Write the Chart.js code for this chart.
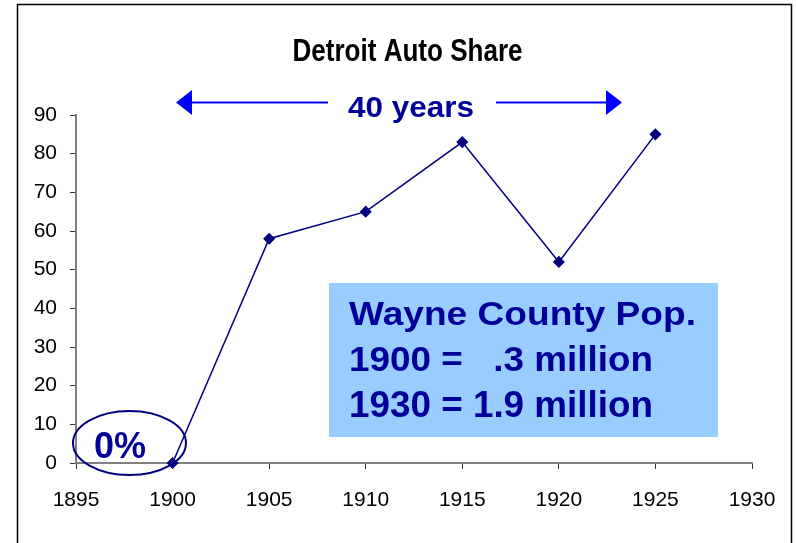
<!DOCTYPE html>
<html>
<head>
<meta charset="utf-8">
<script src="https://cdn.jsdelivr.net/npm/chart.js@4/dist/chart.umd.min.js"></script>
<style>
  body { margin: 0; background: #fff; }
</style>
</head>
<body>
<canvas id="chart" width="797" height="543"></canvas>
<script>
const years = [1900, 1905, 1910, 1915, 1920, 1925];
const autoShare = [0, 58, 65, 83, 52, 85];
const xTicks = [1895, 1900, 1905, 1910, 1915, 1920, 1925, 1930];
const yTicks = [0, 10, 20, 30, 40, 50, 60, 70, 80, 90];
const boxLines = ['Wayne County Pop.', '1900 =   .3 million', '1930 = 1.9 million'];

const FONT = "'Liberation Sans', Arial, sans-serif";
const NAVY = '#000080';
const TEXT_BLUE = '#000099';

// draws bold text so its caps are capH tall and the whole string is w wide
function fitText(ctx, text, left, baseline, w, capH, color) {
    const size = capH / 0.716;
    ctx.save();
    ctx.font = 'bold ' + size + 'px ' + FONT;
    ctx.fillStyle = color;
    ctx.textBaseline = 'alphabetic';
    ctx.textAlign = 'left';
    const m = ctx.measureText(text).width;
    ctx.translate(left, baseline);
    ctx.scale(w / m, 1);
    ctx.fillText(text, 0, 0);
    ctx.restore();
}

function arrow(ctx, x1, x2, y) {
    // x2 is the tip
    const dir = Math.sign(x2 - x1);
    const headLen = 16, headHalf = 12.5;
    ctx.save();
    ctx.strokeStyle = '#0000ff';
    ctx.fillStyle = '#0000ff';
    ctx.lineWidth = 2;
    ctx.beginPath();
    ctx.moveTo(x1, y);
    ctx.lineTo(x2 - dir * headLen, y);
    ctx.stroke();
    ctx.beginPath();
    ctx.moveTo(x2, y);
    ctx.lineTo(x2 - dir * headLen, y - headHalf);
    ctx.lineTo(x2 - dir * headLen, y + headHalf);
    ctx.closePath();
    ctx.fill();
    ctx.restore();
}

const decorations = {
    id: 'decorations',
    beforeDraw(chart) {
        const ctx = chart.ctx;
        ctx.save();
        ctx.fillStyle = '#fff';
        ctx.fillRect(0, 0, chart.width, chart.height);
        ctx.fillStyle = '#99ccff';
        ctx.fillRect(329, 283, 389, 154);
        ctx.restore();
    },
    afterDraw(chart) {
        const ctx = chart.ctx;
        // outer frame
        ctx.save();
        ctx.strokeStyle = '#000';
        ctx.lineWidth = 1.5;
        ctx.strokeRect(17.5, 4.5, 774, 560);
        ctx.restore();

        fitText(ctx, 'Detroit Auto Share', 292.5, 61, 230, 22, '#000');

        arrow(ctx, 328, 176, 102.5);
        arrow(ctx, 496, 622, 102.5);
        fitText(ctx, '40 years', 348, 116.5, 126, 21.5, TEXT_BLUE);

        fitText(ctx, boxLines[0], 349, 325, 347, 24, TEXT_BLUE);
        fitText(ctx, boxLines[1], 349, 371, 304, 25.5, TEXT_BLUE);
        fitText(ctx, boxLines[2], 349, 416.5, 304, 26.5, TEXT_BLUE);

        // circle round the 0% point
        ctx.save();
        ctx.strokeStyle = NAVY;
        ctx.lineWidth = 2;
        ctx.beginPath();
        ctx.ellipse(129.5, 443, 56.5, 32, 0, 0, Math.PI * 2);
        ctx.stroke();
        ctx.restore();
        fitText(ctx, '0%', 94, 458, 52, 27, TEXT_BLUE);
    }
};

const ctx = document.getElementById('chart').getContext('2d');
new Chart(ctx, {
    type: 'line',
    data: {
        datasets: [{
            data: years.map((y, i) => ({ x: y, y: autoShare[i] })),
            borderColor: NAVY,
            backgroundColor: NAVY,
            borderWidth: 1.5,
            pointStyle: 'rectRot',
            pointRadius: 5,
            pointHoverRadius: 5,
            tension: 0,
            clip: false
        }]
    },
    options: {
        responsive: false,
        animation: false,
        layout: { padding: { top: 115, right: 45, left: 0, bottom: 0 } },
        plugins: {
            legend: { display: false },
            tooltip: { enabled: false },
            title: { display: false }
        },
        scales: {
            x: {
                type: 'linear',
                min: xTicks[0],
                max: xTicks[xTicks.length - 1],
                afterBuildTicks: s => { s.ticks = xTicks.map(v => ({ value: v })); },
                afterFit: s => { s.height = 80; },
                ticks: {
                    callback: v => String(v),
                    color: '#000',
                    font: { family: FONT, size: 21 },
                    padding: 19,
                    maxRotation: 0,
                    autoSkip: false
                },
                grid: { drawOnChartArea: false, drawTicks: true, tickLength: 6, color: '#333', lineWidth: 1 },
                border: { color: '#808080', width: 2 }
            },
            y: {
                min: yTicks[0],
                max: yTicks[yTicks.length - 1],
                afterBuildTicks: s => { s.ticks = yTicks.map(v => ({ value: v })); },
                afterFit: s => { s.width = 76; },
                ticks: {
                    color: '#000',
                    font: { family: FONT, size: 21 },
                    padding: 13,
                    autoSkip: false
                },
                grid: { drawOnChartArea: false, drawTicks: true, tickLength: 6, color: '#333', lineWidth: 1 },
                border: { color: '#808080', width: 2 }
            }
        }
    },
    plugins: [decorations]
});
</script>
</body>
</html>
